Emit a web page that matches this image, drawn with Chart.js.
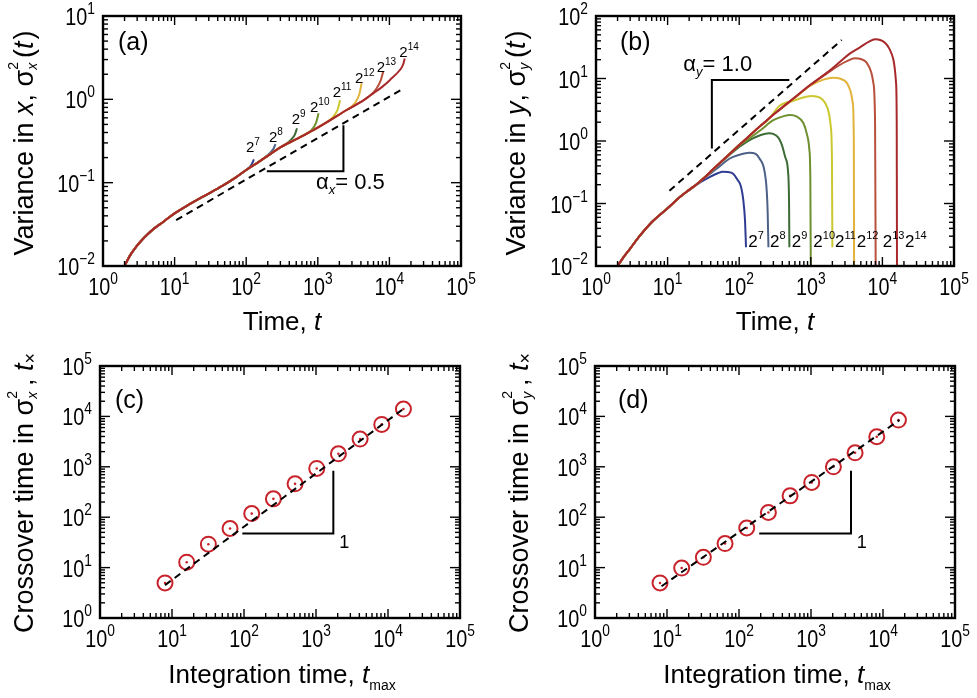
<!DOCTYPE html>
<html><head><meta charset="utf-8"><title>Variance and crossover time</title>
<script src="https://cdn.jsdelivr.net/npm/chart.js@4.4.1/dist/chart.umd.min.js"></script>
<style>
html,body{margin:0;padding:0;background:#fff;overflow:hidden}
#wrap{position:relative;width:977px;height:698px;background:#fff}
#wrap canvas{position:absolute}
</style></head><body>
<div id="wrap">
<canvas id="pa" width="488" height="349" style="left:0;top:0"></canvas>
<canvas id="pb" width="489" height="349" style="left:488px;top:0"></canvas>
<canvas id="pc" width="488" height="349" style="left:0;top:349px"></canvas>
<canvas id="pd" width="489" height="349" style="left:488px;top:349px"></canvas>
</div>
<script>
// ================= DATA =================
const xTickExp = [0,1,2,3,4,5];
const aYTickExp = [-2,-1,0,1];
const bYTickExp = [-2,-1,0,1,2];
const cdYTickExp = [0,1,2,3,4,5];
const tmaxExp = [7,8,9,10,11,12,13,14];

// (a) variance in x: common trajectory + each run's ending branch
const aBaseT = [2,2.4,2.9,3.5,4.2,5,7,10,15,25,47,70,100,150,200,300,500,865,1400,2530,4000];
const aBaseV = [0.01,0.0135,0.017,0.0205,0.024,0.0275,0.034,0.0428,0.053,0.068,0.092,0.114,0.142,0.178,0.21,0.265,0.333,0.428,0.545,0.745,0.93];
const aTailT = [
  [112,120,128],
  [181,215,240,256],
  [347,420,480,512],
  [662,820,950,1024],
  [1327,1650,1900,2048],
  [2670,3300,3800,4096],
  [5070,6500,7600,8192],
  [5970,8000,10200,14000,15500,16384]];
const aTailV = [
  [0.155,0.168,0.19],
  [0.2,0.228,0.255,0.29],
  [0.285,0.325,0.38,0.45],
  [0.38,0.43,0.53,0.68],
  [0.535,0.62,0.76,0.98],
  [0.77,0.9,1.15,1.56],
  [1.07,1.32,1.7,2.15],
  [1.18,1.42,1.71,2.25,2.6,3.1]];
const aGuideT = [10.5,15700], aGuideV = [0.0356,1.35];
const aTriT = [194,2280,2280], aTriV = [0.137,0.137,0.49];

// (b) variance in y
const bBaseT = [2,2.5,3,4,6,10,15,20,25,34,42.7,60,100,130,195,250,326,570,1000,1664,2560];
const bBaseV = [0.01,0.0145,0.019,0.0294,0.05,0.0838,0.128,0.165,0.2,0.27,0.35,0.5,0.86,1.13,1.72,2.2,2.85,4.78,8.0,12.3,18.5];
const bTailT = [
  [20,30,38,50,58.7,70,80.6,95,106,114,120.5,124.5],
  [34,50,72.8,100,138,170,191,224,242,250,256],
  [60,100,150,200,260,299,352,392,440,486,497,502],
  [120,200,299,420,512,640,785,880,953,985,1002],
  [250,371,570,1026,1343,1578,1800,1897,1975,2000],
  [570,975,1500,2060,2600,3170,3600,3850,3990,4020],
  [1664,2500,3200,4140,5000,6030,7000,7460,7900,8070],
  [3500,4860,6500,7890,9500,10870,12500,14200,15500,15850,16000]];
const bTailV = [
  [0.163,0.225,0.262,0.305,0.323,0.318,0.304,0.238,0.186,0.114,0.054,0.02],
  [0.265,0.37,0.52,0.6,0.65,0.62,0.528,0.344,0.164,0.07,0.02],
  [0.49,0.8,1.08,1.25,1.33,1.3,1.13,0.885,0.55,0.275,0.1,0.02],
  [0.98,1.5,2.15,2.5,2.6,2.45,1.96,1.3,0.74,0.25,0.005],
  [2.15,3.7,4.4,5.25,4.93,4.1,2.7,1.74,0.5,0.02],
  [4.65,7.6,9.6,10.3,9.9,8.6,6.2,4.1,1,0.005],
  [12.0,16.3,19,21,20.5,17.9,12.5,8.6,2,0.005],
  [25,31.5,39,42.4,41,37.4,30,20.3,8.6,2,0.005]];
const bGuideT = [10.6,2700], bGuideV = [0.16,41.3];
const bTriT = [501,41.5,41.5], bTriV = [9.5,9.5,0.76];

// (c), (d) crossover times
const tmaxValues = [8,16,32,64,128,256,512,1024,2048,4096,8192,16384];
const cCross = [4.96,12.8,29.1,59.6,118,231,459,927,1811,3548,6934,14000];
const dCross = [4.96,9.8,16,30,61,124,265,489,1000,1897,3945,8450];
const cGuideT = [8,17000], cGuideV = [4.5,14700];
const dGuideT = [8.4,16900], dGuideV = [4.26,8450];
const cTriT = [94.8,1741,1741], cTriV = [47.3,47.3,833];
const dTriT = [191,3594,3594], dTriV = [47.3,47.3,833];

// ================= STYLE / ANNOTATION PLACEMENT =================
const curveColors = ['#2f3c92','#4d6088','#3d6b36','#6f902f','#cbc82f','#e2b33b','#b9503d','#a8292b'];
const RED = '#c8232b';
const aLabelAt = {t:[99.3,208,432,778,1615,3311,6640,13750], v:[0.2355,0.31,0.505,0.71,1.07,1.58,2.14,3.24]};
const bLabelAt = {t:[134,269,541,1084,2178,4375,10090,20700], v:0.0204};

// ================= HELPERS =================
const FAM = '"Liberation Sans", Arial, Helvetica, sans-serif';
function F(size,it){return (it?'italic ':'')+size+'px '+FAM;}
function segW(ctx,s){
  if(s.stack){ctx.font=F(s.size,false);const w1=ctx.measureText(s.stack[0]).width;ctx.font=F(s.size,s.subIt);const w2=ctx.measureText(s.stack[1]).width;return Math.max(w1,w2)+(s.gap||0);}
  ctx.font=F(s.size,s.it);return ctx.measureText(s.t).width+(s.gap||0);
}
function rich(ctx,segs,x,y,align,opt){
  opt=opt||{};const sx=opt.sx||1;const rot=opt.rot||0;
  let w=0;for(const s of segs)w+=segW(ctx,s);
  const off=align==='center'?-w*sx/2:align==='right'?-w*sx:0;
  ctx.save();ctx.translate(x,y);if(rot)ctx.rotate(rot);ctx.translate(off,0);ctx.scale(sx,1);
  ctx.fillStyle='#000';ctx.textAlign='left';ctx.textBaseline='alphabetic';
  let cx=0;
  for(const s of segs){
    const ww=segW(ctx,s);
    if(s.stack){ctx.font=F(s.size,false);ctx.fillText(s.stack[0],cx,s.supDy);ctx.font=F(s.size,s.subIt);ctx.fillText(s.stack[1],cx,s.subDy);}
    else{ctx.font=F(s.size,s.it);ctx.fillText(s.t,cx,s.dy||0);}
    cx+=ww;
  }
  ctx.restore();
}
function expSegs(base,e,bs,es,dy){return [{t:base,size:bs},{t:(e<0?'\u2212':'')+Math.abs(e),size:es,dy:dy}];}
function zip(T,V){return T.map((t,i)=>({x:t,y:Array.isArray(V)?V[i]:V}));}
function branch(baseT,baseV,tailT,tailV){
  const pts=[];
  for(let i=0;i<baseT.length;i++) if(baseT[i]<tailT[0]) pts.push({x:baseT[i],y:baseV[i]});
  for(let i=0;i<tailT.length;i++) pts.push({x:tailT[i],y:tailV[i]});
  return pts;
}

function framePlugin(p){
  return {id:'frame'+p.id, afterDatasetsDraw(chart){
    const ctx=chart.ctx,a=chart.chartArea,xs=chart.scales.x,ys=chart.scales.y;
    ctx.save();
    ctx.strokeStyle='#000';ctx.lineWidth=1.4;
    const L=(x1,y1,x2,y2)=>{ctx.beginPath();ctx.moveTo(x1,y1);ctx.lineTo(x2,y2);ctx.stroke();};
    const xe=p.xExp, ye=p.yExp;
    for(let e=xe[0];e<=xe[xe.length-1];e++)for(let k=1;k<10;k++){
      if(e===xe[xe.length-1]&&k>1)break;
      const px=xs.getPixelForValue(k*Math.pow(10,e)),len=k===1?9:5;
      L(px,a.bottom,px,a.bottom-len);L(px,a.top,px,a.top+len);
    }
    for(let e=ye[0];e<=ye[ye.length-1];e++)for(let k=1;k<10;k++){
      if(e===ye[ye.length-1]&&k>1)break;
      const py=ys.getPixelForValue(k*Math.pow(10,e)),len=k===1?10:5;
      L(a.left,py,a.left+len,py);L(a.right,py,a.right-len,py);
    }
    ctx.lineWidth=2.4;ctx.strokeRect(a.left,a.top,a.right-a.left,a.bottom-a.top);
    for(const e of xe) rich(ctx,expSegs('10',e,23,16,-11),xs.getPixelForValue(Math.pow(10,e)),a.bottom+29,'center',{sx:0.86});
    for(const e of ye) rich(ctx,expSegs('10',e,23,16,-11),a.left-8,ys.getPixelForValue(Math.pow(10,e))+9,'right',{sx:0.86});
    if(p.dataText) p.dataText(ctx,xs,ys);
    ctx.translate(-p.ox,-p.oy);
    if(p.pageText) p.pageText(ctx);
    ctx.restore();
  }};
}

function makeChart(id,pad,yMin,yMax,datasets,plugin){
  return new Chart(document.getElementById(id),{type:'line',data:{datasets},options:{
    responsive:false,animation:false,devicePixelRatio:1,
    layout:{padding:pad},
    plugins:{legend:{display:false},tooltip:{enabled:false}},
    elements:{point:{radius:0},line:{borderWidth:2}},
    scales:{x:{type:'logarithmic',min:1,max:1e5,display:false},
            y:{type:'logarithmic',min:yMin,max:yMax,display:false}}
  },plugins:[plugin]});
}
function guide(T,V,dash){return {data:zip(T,V),borderColor:'#000',borderWidth:2,borderDash:dash?[7,5]:[],pointRadius:0,order:-1,tension:0};}

// ================= PANEL (a) =================
const aSets = tmaxExp.map((e,i)=>({label:'2^'+e,data:branch(aBaseT,aBaseV,aTailT[i],aTailV[i]),
  borderColor:curveColors[i],borderWidth:2,pointRadius:0,cubicInterpolationMode:'monotone',order:tmaxExp.length-i}));
aSets.push(guide(aGuideT,aGuideV,true),guide(aTriT,aTriV,false));
makeChart('pa',{left:103,top:16,right:27,bottom:83},0.01,10,aSets,framePlugin({id:'a',ox:0,oy:0,xExp:xTickExp,yExp:aYTickExp,
  dataText(ctx,xs,ys){
    tmaxExp.forEach((e,i)=>rich(ctx,[{t:'2',size:15},{t:String(e),size:10,dy:-7}],xs.getPixelForValue(aLabelAt.t[i]),ys.getPixelForValue(aLabelAt.v[i]),'left'));
    rich(ctx,[{t:'\u03b1',size:22},{t:'x',size:13,it:true,dy:5},{t:'= 0.5',size:22}],xs.getPixelForValue(944),ys.getPixelForValue(0.083),'left');
  },
  pageText(ctx){
    rich(ctx,[{t:'(a)',size:25}],118,50,'left');
    rich(ctx,[{t:'Variance in ',size:27},{t:'x',size:27,it:true},{t:', ',size:27},{t:'\u03c3',size:27},
      {stack:['2','x'],size:14,subIt:true,supDy:-15,subDy:4,gap:4},{t:'(',size:27},{t:'t',size:27,it:true,gap:2},{t:')',size:27}],33,143,'center',{rot:-Math.PI/2});
    rich(ctx,[{t:'Time, ',size:26},{t:'t',size:26,it:true}],282,330,'center');
  }}));

// ================= PANEL (b) =================
const bSets = tmaxExp.map((e,i)=>({label:'2^'+e,data:branch(bBaseT,bBaseV,bTailT[i],bTailV[i]),
  borderColor:curveColors[i],borderWidth:2,pointRadius:0,cubicInterpolationMode:'monotone',order:tmaxExp.length-i}));
bSets.push(guide(bGuideT,bGuideV,true),guide(bTriT,bTriV,false));
makeChart('pb',{left:108,top:16,right:23,bottom:83},0.01,100,bSets,framePlugin({id:'b',ox:488,oy:0,xExp:xTickExp,yExp:bYTickExp,
  dataText(ctx,xs,ys){
    tmaxExp.forEach((e,i)=>rich(ctx,[{t:'2',size:17},{t:String(e),size:11,dy:-8}],xs.getPixelForValue(bLabelAt.t[i]),ys.getPixelForValue(bLabelAt.v),'left'));
    rich(ctx,[{t:'\u03b1',size:22},{t:'y',size:13,it:true,dy:5},{t:'= 1.0',size:22}],xs.getPixelForValue(16.6),ys.getPixelForValue(13.3),'left');
  },
  pageText(ctx){
    rich(ctx,[{t:'(b)',size:25}],620,50,'left');
    rich(ctx,[{t:'Variance in ',size:27},{t:'y',size:27,it:true},{t:', ',size:27},{t:'\u03c3',size:27},
      {stack:['2','y'],size:14,subIt:true,supDy:-15,subDy:4,gap:4},{t:'(',size:27},{t:'t',size:27,it:true,gap:2},{t:')',size:27}],525,143,'center',{rot:-Math.PI/2});
    rich(ctx,[{t:'Time, ',size:26},{t:'t',size:26,it:true}],775,330,'center');
  }}));

// ================= PANELS (c), (d) =================
function crossSets(V,gT,gV,tT,tV){
  return [guide(gT,gV,true),guide(tT,tV,false),
    {label:'crossover',data:zip(tmaxValues,V),showLine:false,pointStyle:'circle',pointRadius:7.5,pointBorderWidth:2,
     pointBorderColor:RED,pointBackgroundColor:'rgba(0,0,0,0)',order:1},
    {label:'centre',data:zip(tmaxValues,V),showLine:false,pointRadius:1.3,pointBorderWidth:0,pointBackgroundColor:RED,order:2}];
}
function crossTitle(letter,sub,cx,cy,xcx,lx){
  return function(ctx){
    rich(ctx,[{t:'('+letter+')',size:25}],lx,408,'left');
    rich(ctx,[{t:'Crossover time in ',size:27},{t:'\u03c3',size:27},
      {stack:['2',sub],size:14,subIt:true,supDy:-16,subDy:4,gap:5},{t:', ',size:27},{t:'t',size:27,it:true},{t:'\u00d7',size:18,dy:3}],cx,cy,'center',{rot:-Math.PI/2});
    rich(ctx,[{t:'Integration time, ',size:26},{t:'t',size:26,it:true},{t:'max',size:14,dy:7}],xcx,683,'center');
  };
}
makeChart('pc',{left:100,top:17,right:28,bottom:80},1,1e5,crossSets(cCross,cGuideT,cGuideV,cTriT,cTriV),framePlugin({id:'c',ox:0,oy:349,xExp:xTickExp,yExp:cdYTickExp,
  dataText(ctx,xs,ys){rich(ctx,[{t:'1',size:18}],xs.getPixelForValue(2108),ys.getPixelForValue(24.2),'left');},
  pageText:crossTitle('c','x',33,493,282,115)}));
makeChart('pd',{left:107,top:17,right:22,bottom:80},1,1e5,crossSets(dCross,dGuideT,dGuideV,dTriT,dTriV),framePlugin({id:'d',ox:488,oy:349,xExp:xTickExp,yExp:cdYTickExp,
  dataText(ctx,xs,ys){rich(ctx,[{t:'1',size:18}],xs.getPixelForValue(4313),ys.getPixelForValue(24.2),'left');},
  pageText:crossTitle('d','y',528,493,777,618)}));
</script>
</body></html>
